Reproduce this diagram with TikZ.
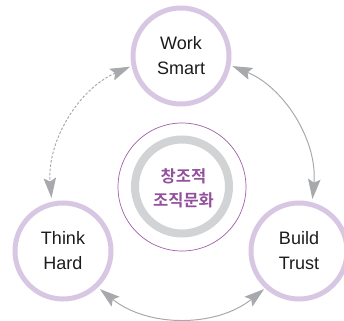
\documentclass[tikz,border=0pt]{standalone}
\usepackage{fontspec}
\setmainfont{Liberation Sans}
\newfontfamily\kr{Noto Sans CJK KR}[BoldFont=* Bold]
\usetikzlibrary{arrows.meta}
\definecolor{lav}{HTML}{D8C7E2}
\definecolor{ringgray}{HTML}{D1D3D4}
\definecolor{thinpurple}{HTML}{A15DAB}
\definecolor{krpurple}{HTML}{93509C}
\definecolor{arrgray}{HTML}{A7A9AC}
\definecolor{txt}{HTML}{1E1B1C}
\tikzset{
  bigcircle/.style={circle,draw=lav,line width=5pt,minimum size=96pt,inner sep=0pt,
    align=center,text=txt,font=\fontsize{18}{25}\selectfont},
  corering/.style={circle,draw=ringgray,line width=8pt,minimum size=94pt,inner sep=0pt},
  thinring/.style={circle,draw=thinpurple,line width=0.7pt,minimum size=128pt,inner sep=0pt},
  krtext/.style={align=center,text=krpurple,font=\kr\bfseries\fontsize{16.5}{24}\selectfont},
  conn/.style={draw=arrgray,line width=1pt,{Stealth[length=20pt,width=12.5pt,inset=3.5pt,fill=arrgray]}-{Stealth[length=20pt,width=12.5pt,inset=3.5pt,fill=arrgray]}},
  dconn/.style={conn,dash pattern=on 2.5pt off 1.8pt}
}
\begin{document}
\begin{tikzpicture}[x=1pt,y=1pt]
\useasboundingbox (0,0) rectangle (344,320);
\coordinate (A) at (182,133);
\node[thinring] (outer) at (182,133) {};
\node[corering] (core) at (182,133.5) {};
\node[krtext] (kr) at (183.5,132) {창조적\\조직문화};
\node[bigcircle] (ws) at (181,264) {Work\\Smart};
\node[bigcircle] (th) at (63,69) {Think\\Hard};
\node[bigcircle] (bt) at (299,69) {Build\\Trust};
% arc end points on a circle round the centre
\coordinate (d1) at ([shift={(113.3:131pt)}]A);
\coordinate (r1) at ([shift={(67.4:131pt)}]A);
\coordinate (b1) at ([shift={(231.2:131pt)}]A);
\draw[dconn] (d1) arc[start angle=113.3,end angle=184.8,radius=131pt];
\draw[conn] (r1) arc[start angle=67.4,end angle=-5.3,radius=131pt];
\draw[conn] (b1) arc[start angle=231.2,end angle=308.8,radius=131pt];
\end{tikzpicture}
\end{document}
